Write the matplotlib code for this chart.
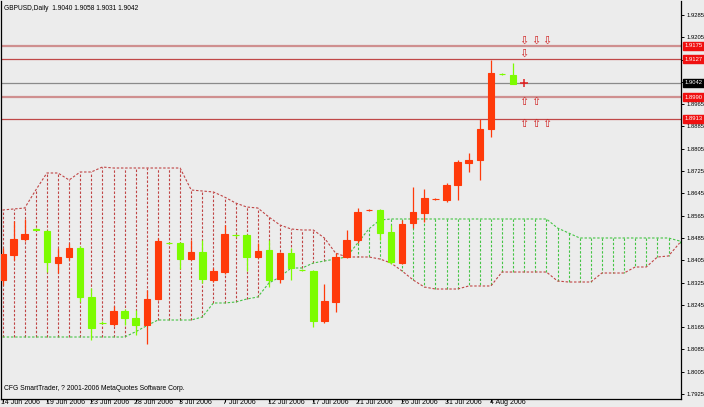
import matplotlib
matplotlib.use("Agg")
import matplotlib.pyplot as plt
import matplotlib.transforms as mtransforms
import numpy as np

# ---------------- data ----------------
title_text = "GBPUSD,Daily  1.9040 1.9058 1.9031 1.9042"
footer_text = "CFG SmartTrader, ? 2001-2006 MetaQuotes Software Corp."

opens  = [1.8334, 1.8424, 1.8481, 1.8516, 1.8510, 1.8395, 1.8417, 1.8449, 1.8273, 1.8181,
          1.8176, 1.8223, 1.8198, 1.8173, 1.8266, 1.8468, 1.8467, 1.8410, 1.8435, 1.8334,
          1.8363, 1.8496, 1.8497, 1.8417, 1.8442, 1.8338, 1.8431, 1.8371, 1.8367, 1.8187,
          1.8256, 1.8417, 1.8478, 1.8585, 1.8586, 1.8506, 1.8395, 1.8539, 1.8575, 1.8624,
          1.8621, 1.8675, 1.8755, 1.8765, 1.8876, 1.9074, 1.9070]
highs  = [1.8449, 1.8546, 1.8553, 1.8520, 1.8514, 1.8449, 1.8467, 1.8456, 1.8306, 1.8187,
          1.8241, 1.8230, 1.8227, 1.8299, 1.8485, 1.8470, 1.8470, 1.8478, 1.8478, 1.8377,
          1.8532, 1.8500, 1.8499, 1.8467, 1.8478, 1.8435, 1.8449, 1.8373, 1.8370, 1.8320,
          1.8431, 1.8514, 1.8593, 1.8589, 1.8589, 1.8532, 1.8550, 1.8668, 1.8661, 1.8628,
          1.8682, 1.8765, 1.8790, 1.8912, 1.9124, 1.9076, 1.9113]
lows   = [1.8316, 1.8406, 1.8474, 1.8512, 1.8363, 1.8359, 1.8406, 1.8255, 1.8119, 1.8176,
          1.8169, 1.8173, 1.8137, 1.8105, 1.8263, 1.8463, 1.8374, 1.8406, 1.8324, 1.8327,
          1.8356, 1.8490, 1.8365, 1.8413, 1.8309, 1.8324, 1.8334, 1.8367, 1.8166, 1.8180,
          1.8220, 1.8413, 1.8467, 1.8583, 1.8478, 1.8392, 1.8392, 1.8521, 1.8543, 1.8622,
          1.8614, 1.8621, 1.8722, 1.8693, 1.8847, 1.9070, 1.9036]
closes = [1.8428, 1.8481, 1.8499, 1.8514, 1.8399, 1.8417, 1.8449, 1.8273, 1.8162, 1.8179,
          1.8223, 1.8198, 1.8173, 1.8266, 1.8474, 1.8466, 1.8410, 1.8435, 1.8338, 1.8367,
          1.8499, 1.8494, 1.8416, 1.8438, 1.8334, 1.8431, 1.8377, 1.8369, 1.8187, 1.8259,
          1.8417, 1.8478, 1.8579, 1.8587, 1.8503, 1.8399, 1.8535, 1.8579, 1.8629, 1.8626,
          1.8675, 1.8758, 1.8765, 1.8876, 1.9077, 1.9072, 1.9038]

# Ichimoku cloud (Senkou Span A = green, Senkou Span B = red), 62 bars incl. future shift
span_a = [1.81294]*12 + [1.81484, 1.81700, 1.81904, 1.81904, 1.81904, 1.81904, 1.82012, 1.82515,
          1.82515, 1.82550, 1.82658, 1.82730, 1.83232, 1.83448, 1.83771, 1.83771, 1.83950, 1.84022,
          1.84094, 1.84166, 1.84668, 1.85171, 1.85494] + [1.85530]*15 + \
         [1.85207, 1.85027] + [1.84848]*9 + [1.84740]
span_b = [1.85853, 1.85889, 1.85924, 1.86570, 1.87181, 1.87181, 1.86929, 1.87217, 1.87217, 1.87396,
          1.87360, 1.87360, 1.87360, 1.87360, 1.87360, 1.87360, 1.87360, 1.86570, 1.86535, 1.86499,
          1.86319, 1.86104, 1.85960, 1.85924, 1.85601, 1.85314, 1.85171, 1.85135, 1.85135, 1.84848,
          1.84309, 1.84166, 1.84166, 1.84166, 1.84094, 1.83950, 1.83663, 1.83340, 1.83089, 1.83017,
          1.83017, 1.83017, 1.83125, 1.83125, 1.83125, 1.83627, 1.83627, 1.83627, 1.83627, 1.83627,
          1.83304, 1.83268, 1.83268, 1.83268, 1.83591, 1.83591, 1.83591, 1.83807, 1.83807, 1.84166,
          1.84202, 1.84668]

date_labels = ["14 Jun 2006", "19 Jun 2006", "23 Jun 2006", "28 Jun 2006", "3 Jul 2006",
               "7 Jul 2006", "12 Jul 2006", "17 Jul 2006", "21 Jul 2006", "26 Jul 2006",
               "31 Jul 2006", "4 Aug 2006"]
date_bars = [0, 4, 8, 12, 16, 20, 24, 28, 32, 36, 40, 44]

level_red_thick = [1.9175, 1.8990]
level_red_thin = [1.9127, 1.8913]
bid_price = 1.9042

down_arrow_bars = [47, 48, 49]
down_arrow_price = 1.9175
down_arrow2_bars = [47]
down_arrow2_price = 1.9127
up_arrow_bars = [47, 48]
up_arrow_price = 1.8990
up_arrow2_bars = [47, 48, 49]
up_arrow2_price = 1.8913

price_ticks = [round(1.7925 + 0.008 * k, 4) for k in range(18)]

# ---------------- style ----------------
BG = "#ECECEC"
RED = "#FF3A0A"
GREEN = "#7CFC00"
CLOUD_RED = "#C04545"
CLOUD_GREEN = "#45C445"
FONT = "Liberation Sans"

W, H = 704, 407
fig = plt.figure(figsize=(W / 100, H / 100), dpi=100, facecolor=BG)
ax_l, ax_r, ax_t, ax_b = 1, 681, 0.5, 398.5
ax = fig.add_axes([ax_l / W, (H - ax_b) / H, (ax_r - ax_l) / W, (ax_b - ax_t) / H])
ax.set_facecolor(BG)

n_cloud = len(span_a)
xc = np.arange(n_cloud)
a = np.array(span_a)
b = np.array(span_b)

# cloud hatching
for i in range(n_cloud):
    col = CLOUD_RED if b[i] > a[i] else CLOUD_GREEN
    ax.plot([xc[i], xc[i]], [a[i], b[i]], color=col, lw=0.8,
            linestyle=(0, (2.2, 1.6)), zorder=1)
ax.plot(xc, a, color=CLOUD_GREEN, lw=0.8, linestyle=(0, (2.2, 1.6)), zorder=1)
ax.plot(xc, b, color=CLOUD_RED, lw=0.8, linestyle=(0, (2.2, 1.6)), zorder=1)

# horizontal levels
for p in level_red_thick:
    ax.axhline(p, color="#CF8F8F", lw=1.6, zorder=2)
for p in level_red_thin:
    ax.axhline(p, color="#C04848", lw=0.9, zorder=2)
ax.axhline(bid_price, color="#8A8A8A", lw=0.9, zorder=2)

# candles
o = np.array(opens); c = np.array(closes); hi = np.array(highs); lo = np.array(lows)
xs = np.arange(len(o))
cols = [RED if cc >= oo else GREEN for oo, cc in zip(o, c)]
ax.vlines(xs, lo, hi, colors=cols, lw=0.9, zorder=3)
bottoms = np.minimum(o, c)
heights = np.abs(c - o)
ax.bar(xs, heights, width=0.58, bottom=bottoms, color=cols, edgecolor=cols,
       linewidth=0.8, zorder=4)

# arrows
def arrows(bars, price, sym, va):
    for bb in bars:
        ax.text(bb, price, sym, color="#D02020", fontsize=8, ha="center", va=va,
                family="DejaVu Sans", zorder=5)

arrows(down_arrow_bars, down_arrow_price, "\u21e9", "bottom")
arrows(down_arrow2_bars, down_arrow2_price, "\u21e9", "bottom")
arrows(up_arrow_bars, up_arrow_price, "\u21e7", "top")
arrows(up_arrow2_bars, up_arrow2_price, "\u21e7", "top")
ax.plot([47], [bid_price], marker="+", color="#E02020", markersize=6, mew=1.1, zorder=5)

# axes limits
x_of = lambda px: (px - 2.5) / 11.1
y_of = lambda py: 1.9175 - (py - 45.7) / 2786.0
ax.set_xlim(x_of(ax_l), x_of(ax_r))
ax.set_ylim(y_of(ax_b), y_of(ax_t))

ax.spines["top"].set_visible(False)
for s in ["left", "right", "bottom"]:
    ax.spines[s].set_color("black")
    ax.spines[s].set_linewidth(0.9)

# y ticks on right
hidden = {1.9125, 1.9045}
ax.yaxis.tick_right()
ax.set_yticks(price_ticks)
ax.set_yticklabels(["" if t in hidden else f"{t:.4f}" for t in price_ticks],
                   fontsize=4.2, family=FONT)
ax.tick_params(axis="y", direction="out", length=2.5, width=0.7, pad=1.5, colors="black")

# x ticks (marks) + labels placed manually
ax.set_xticks(date_bars)
ax.set_xticklabels([])
ax.tick_params(axis="x", direction="out", length=2.5, width=0.7)
trans = mtransforms.blended_transform_factory(ax.transData, fig.transFigure)
for bb, lab in zip(date_bars, date_labels):
    ax.text(bb - 0.12, 1 - 402.8 / H, lab, transform=trans, fontsize=5.0, family=FONT,
            ha="left", va="center", clip_on=False)

# price label boxes on right
def price_box(p, face):
    ax.text(1.0 + 3.5 / (ax_r - ax_l), p, f"{p:.4f}", transform=ax.get_yaxis_transform(),
            fontsize=4.2, family=FONT, color="white", ha="left", va="center",
            bbox=dict(boxstyle="square,pad=0.25", fc=face, ec=face), clip_on=False, zorder=10)

for p in level_red_thick + level_red_thin:
    price_box(p, "#F01010")
price_box(bid_price, "black")

# title / footer
fig.text(4 / W, 1 - 8 / H, title_text, fontsize=4.8, family=FONT, ha="left", va="center")
fig.text(4 / W, 1 - 389 / H, footer_text, fontsize=4.9, family=FONT, ha="left", va="center")

fig.savefig("out.png", dpi=100, facecolor=BG)
